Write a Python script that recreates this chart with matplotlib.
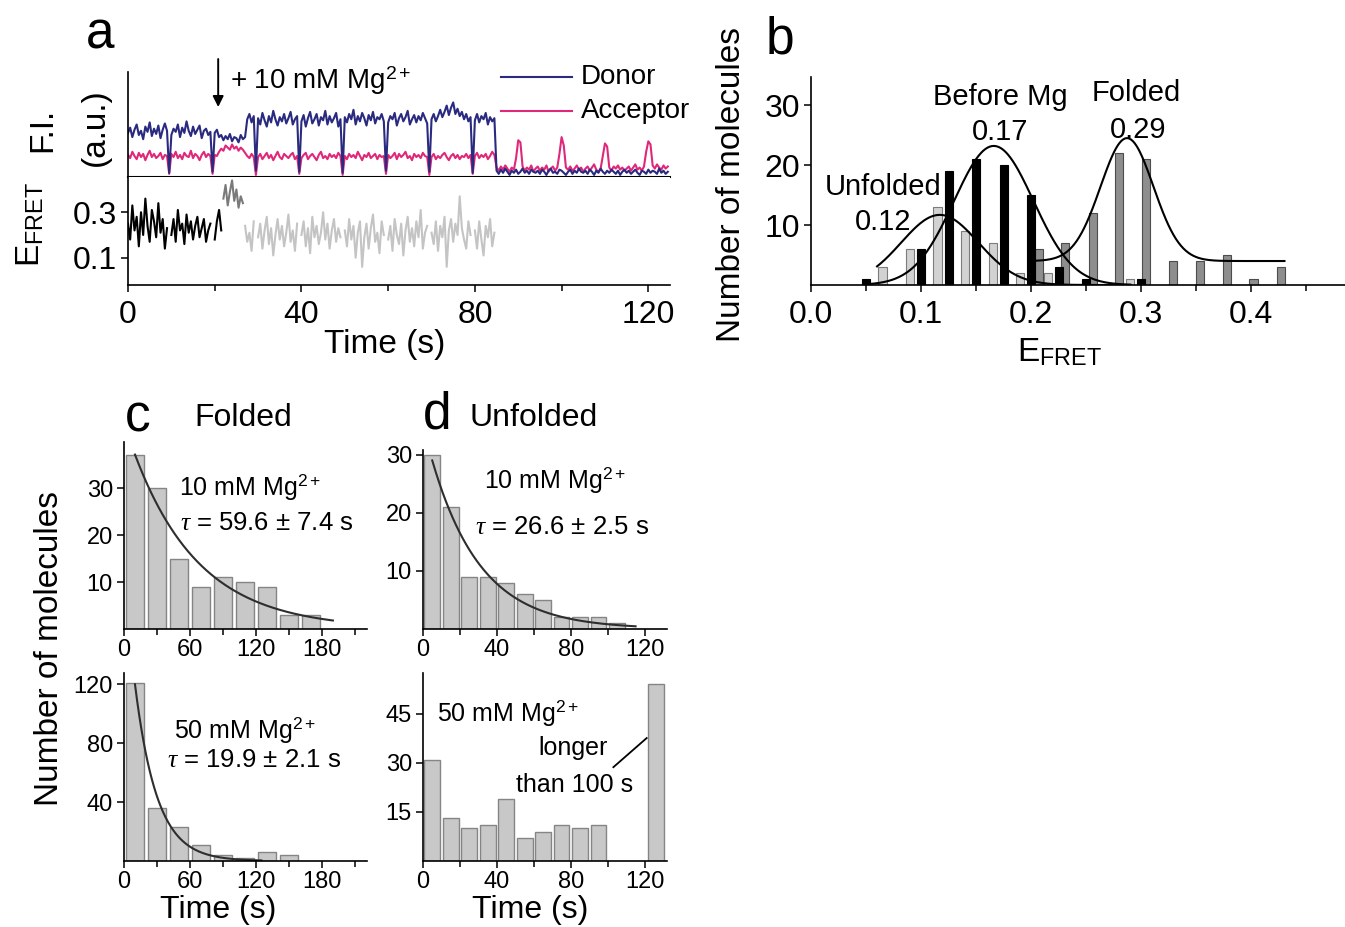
"""
Four-panel smFRET figure: (a) time trace, (b) E_FRET histograms,
(c, d) dwell-time histograms with single-exponential fits.
"""
import numpy as np
import matplotlib
matplotlib.use('Agg')
import matplotlib.pyplot as plt
from matplotlib.ticker import FormatStrFormatter, MultipleLocator

plt.rcParams.update({
    'font.family':      ['Liberation Sans', 'DejaVu Sans'],
    'mathtext.fontset': 'custom',
    'mathtext.rm':      'Liberation Sans',
    'mathtext.it':      'Liberation Serif:italic',
    'mathtext.bf':      'Liberation Sans:bold',
    'axes.linewidth':   1.2,
})

FW, FH = 1345, 927

# ---------------------------------------------------------------- panel a
DT = 0.5           # s per sample in the traces below (values x100, a.u.)
donor = [
    42, 47, 38, 45, 50, 40, 44, 36, 48, 43, 52, 39, 46, 41, 49, 37, 45, 51, 44,   # 0-9
    4,
    40, 46, 43, 50, 38, 47, 42, 53, 44, 39, 48, 41, 45, 49, 37, 44, 46, 40, 43,   # 10-19
    5,
    42, 45, 38, 40, 35, 39, 36, 41, 34, 38, 37, 33, 40, 36, 38,                   # 20-27
    55, 60, 52, 58,
    6,
    56, 50, 61, 54, 48, 58, 52, 63, 55, 49, 57, 53, 60, 51, 56, 62, 50, 55, 58,   # 30-39
    5,
    53, 59, 48, 56, 62, 51, 55, 60, 49, 57, 54, 63, 50, 58, 52, 56, 61, 48, 55,   # 40-49
    4,
    57, 52, 60, 55, 64, 50, 58, 53, 61, 56, 49, 59, 54, 62, 51, 57, 55, 60, 53,   # 50-59
    6,
    52, 58, 55, 61, 49, 56, 60, 53, 57, 63, 50, 55, 59, 52, 58, 54, 61, 56, 51,   # 60-69
    5,
    55, 60, 53, 58, 64, 57, 62, 68, 59, 66, 71, 60, 65, 58, 62, 55, 60, 53, 57,   # 70-79
    4,
    54, 60, 52, 58, 55, 61, 50, 57, 53, 56,                                       # 80-84.5
    6, 3, 7, 4, 8, 5, 2, 6, 4, 7, 3, 5, 8, 4, 6, 3, 7, 5, 4, 6,                   # 85-94.5
    3, 7, 5, 2, 6, 8, 4, 5, 3, 7, 6, 4, 2, 5, 7, 3, 6, 4, 8, 5,
    4, 6, 3, 7, 5, 2, 6, 4, 8, 5, 3, 6, 4, 7, 5, 3, 6, 2, 5, 7,
    4, 6, 3, 5, 7, 4, 2, 6, 5, 3, 7, 4, 6, 5, 3, 8, 4, 6, 3, 5,
]
acceptor = [
    21, 18, 24, 20, 17, 23, 19, 22, 16, 21, 25, 19, 22, 18, 20, 23, 17, 21, 20,
    3,
    22, 19, 24, 18, 21, 17, 23, 20, 19, 25, 18, 22, 20, 16, 21, 24, 19, 22, 20,
    3,
    21, 20, 24, 27, 25, 30, 28, 26, 31, 27, 29, 25, 28, 26, 23,
    20, 18, 22, 19,
    2,
    19, 22, 17, 20, 23, 18, 21, 16, 20, 24, 19, 17, 22, 20, 18, 21, 23, 17, 20,
    3,
    18, 21, 23, 17, 20, 22, 19, 16, 21, 24, 18, 20, 17, 22, 19, 21, 18, 23, 20,
    2,
    20, 17, 22, 19, 21, 18, 24, 20, 16, 21, 19, 23, 18, 20, 22, 17, 21, 19, 20,
    3,
    21, 18, 20, 23, 17, 22, 19, 21, 24, 18, 20, 16, 22, 19, 21, 18, 23, 20, 19,
    2,
    19, 22, 17, 20, 18, 21, 23, 19, 16, 20, 22, 18, 21, 17, 20, 19, 22, 18, 21,
    3,
    20, 23, 18, 21, 19, 22, 17, 20, 24, 21,
    9, 6, 10, 7, 11, 8, 5, 9, 7, 18, 35, 33, 10, 6, 9, 7, 11, 5, 8, 10,          # 85-94.5
    6, 9, 7, 11, 5, 8, 10, 6, 9, 22, 38, 30, 9, 7, 10, 6, 8, 11, 7, 9,
    5, 8, 10, 6, 9, 12, 7, 5, 8, 20, 32, 29, 9, 6, 10, 8, 11, 7, 9, 6,
    8, 10, 6, 9, 12, 7, 9, 6, 10, 24, 34, 31, 11, 8, 12, 9, 7, 11, 8, 10,
]
nan = float('nan')
EF_BEFORE_T0 = 0.0
efret_before = [
    25, 18, 33, 22, 28, 15, 30, 20, 36, 24, 17, 31, 26, 19, 34, 21, 27, 14, 23,
    nan,
    20, 27, 17, 31, 22, 25, 16, 29, 21, 26, 18, 24, 28, 19, 23, 27, 17, 22, 25,
    nan,
    18, 26, 31, 22,
]
EF_MIX_T0 = 22.0
efret_mix = [36, 42, 33, 39, 44, 35, 40, 32, 37, 34]
EF_AFTER_T0 = 27.0
efret_after = [
    24, 17, 21, 13, 26,
    nan,
    19, 25, 14, 22, 28, 16, 23, 11, 20, 27, 18, 24, 15, 21, 29, 17, 22, 13, 25,
    nan,
    20, 26, 15, 23, 12, 28, 19, 24, 16, 21, 30, 18, 25, 14, 22, 27, 17, 23, 19,
    nan,
    22, 15, 27, 18, 24, 10, 21, 26, 6, 19, 25, 14, 23, 29, 17, 21, 12, 26, 20,
    nan,
    18, 24, 13, 27, 20, 16, 25, 11, 22, 28, 17, 23, 15, 26, 19, 31, 14, 21, 24,
    nan,
    21, 16, 26, 13, 24, 19, 28, 6, 22, 27, 17, 25, 20, 37, 23, 18, 14, 26, 20,
    nan,
    22, 14, 26, 18, 11, 24, 19, 27, 15, 21,
]
MG_ADD_T = 20.8

# ---------------------------------------------------------------- panel b
unf_x  = [0.065, 0.090, 0.115, 0.140, 0.165, 0.190, 0.215, 0.290]
unf_n  = [3, 6, 13, 9, 7, 2, 2, 1]
bef_x  = [0.050, 0.100, 0.125, 0.150, 0.175, 0.200, 0.225, 0.250, 0.300]
bef_n  = [1, 6, 19, 21, 20, 15, 3, 1, 1]
fold_x = [0.207, 0.231, 0.256, 0.280, 0.304, 0.329, 0.353, 0.378, 0.402, 0.427]
fold_n = [6, 7, 12, 22, 21, 4, 4, 5, 1, 3]
# gaussian fits: (offset, amplitude, centre, sigma, x from, x to)
fit_unf  = (0.0, 11.7, 0.117, 0.035, 0.060, 0.290)
fit_bef  = (0.0, 23.2, 0.166, 0.036, 0.052, 0.290)
fit_fold = (4.0, 20.5, 0.287, 0.024, 0.205, 0.430)

# ---------------------------------------------------------------- panels c, d
c10_t = [10, 30, 50, 70, 90, 110, 130, 150, 170]
c10_n = [37, 30, 15, 9, 11, 10, 9, 3, 3]
c50_t = [10, 30, 50, 70, 90, 110, 130, 150]
c50_n = [121, 36, 23, 11, 4, 2, 6, 4]
d10_t = [5, 15, 25, 35, 45, 55, 65, 75, 85, 95, 105]
d10_n = [30, 21, 9, 9, 8, 6, 5, 2, 2, 2, 1]
d50_t = [5, 15, 25, 35, 45, 55, 65, 75, 85, 95, 126]
d50_n = [31, 13, 10, 11, 19, 7, 9, 11, 10, 11, 54]
# exponential fits: (amplitude, tau, t from, t to)
fit_c10 = (43.9, 59.6, 10, 190)
fit_c50 = (198.0, 19.9, 10, 125)
fit_d10 = (35.0, 26.6, 5, 115)

DONOR_C = '#2a2a80'
ACC_C   = '#e0287a'
BAR_FC  = '#c8c8c8'
BAR_EC  = '#858585'


def px_axes(fig, l, t, r, b):
    return fig.add_axes([l / FW, 1 - b / FH, (r - l) / FW, (b - t) / FH])


def ftext(fig, x, y, s, **kw):
    kw.setdefault('ha', 'center')
    kw.setdefault('va', 'center')
    fig.text(x / FW, 1 - y / FH, s, **kw)


def style(ax, size):
    for s in ('top', 'right'):
        ax.spines[s].set_visible(False)
    ax.tick_params(which='both', direction='out', width=1.1, labelsize=size)
    ax.tick_params(which='major', length=5, pad=3)
    ax.tick_params(which='minor', length=4)


def gauss(p):
    y0, a, mu, s, x0, x1 = p
    x = np.linspace(x0, x1, 300)
    return x, y0 + a * np.exp(-(x - mu) ** 2 / (2 * s * s))


def expo(p):
    a, tau, t0, t1 = p
    t = np.linspace(t0, t1, 300)
    return t, a * np.exp(-t / tau)


fig = plt.figure(figsize=(FW / 100, FH / 100), dpi=100)

# ---- a
ax_fi = px_axes(fig, 128, 72, 670, 177)
ax_ef = px_axes(fig, 128, 177, 670, 285)
t_fi = np.arange(len(donor)) * DT
ax_fi.plot(t_fi, np.array(acceptor) / 100, color=ACC_C, lw=1.5)
ax_fi.plot(t_fi, np.array(donor) / 100, color=DONOR_C, lw=1.5)
ax_fi.set_xlim(0, 125)
ax_fi.set_ylim(0, 1)
for s in ('top', 'right'):
    ax_fi.spines[s].set_visible(False)
ax_fi.spines['bottom'].set_linewidth(1.5)
ax_fi.set_xticks([])
ax_fi.set_yticks([])
ax_fi.annotate('', xy=(MG_ADD_T, 0.64), xytext=(MG_ADD_T, 1.15),
               arrowprops=dict(arrowstyle='-|>', color='k', lw=1.4,
                               mutation_scale=16),
               annotation_clip=False)
ax_fi.text(23.6, 0.92, '+ 10 mM Mg$^{2+}$', fontsize=20, ha='left',
           va='center', clip_on=False)
ax_fi.plot([86, 102.5], [0.95, 0.95], color=DONOR_C, lw=1.5, clip_on=False)
ax_fi.plot([86, 102.5], [0.63, 0.63], color=ACC_C, lw=1.5, clip_on=False)
ax_fi.text(104.4, 0.95, 'Donor', fontsize=20, va='center', clip_on=False)
ax_fi.text(104.4, 0.63, 'Acceptor', fontsize=20, va='center', clip_on=False)

for vals, t0, col in ((efret_before, EF_BEFORE_T0, 'black'),
                      (efret_mix, EF_MIX_T0, '#7a7a7a'),
                      (efret_after, EF_AFTER_T0, '#c4c4c4')):
    tt = t0 + np.arange(len(vals)) * DT
    ax_ef.plot(tt, np.array(vals) / 100, color=col, lw=1.5)
ax_ef.set_xlim(0, 125)
ax_ef.set_ylim(-0.02, 0.455)
style(ax_ef, 23)
ax_ef.set_yticks([0.1, 0.3])
ax_ef.set_xticks([0, 40, 80, 120])
ax_ef.xaxis.set_minor_locator(MultipleLocator(20))
ax_ef.tick_params(axis='x', pad=6)

ftext(fig, 100, 35, 'a', fontsize=37)
ftext(fig, 43, 130, 'F.I.', fontsize=24, rotation=90)
ftext(fig, 95, 127, '(a.u.)', fontsize=24, rotation=90)
ftext(fig, 30, 224, r'E$_{\mathrm{FRET}}$', fontsize=24, rotation=90)
ftext(fig, 385, 345, 'Time (s)', fontsize=24)

# ---- b
ax_b = px_axes(fig, 811, 77, 1345, 285)
bw = 0.0075
ax_b.bar(unf_x, unf_n, width=bw, color='#d2d2d2', edgecolor='#7c7c7c', lw=0.8)
ax_b.bar(fold_x, fold_n, width=bw, color='#8e8e8e', edgecolor='#4c4c4c', lw=0.8)
ax_b.bar(bef_x, bef_n, width=bw, color='black', edgecolor='black', lw=0.8)
for p in (fit_unf, fit_bef, fit_fold):
    x, y = gauss(p)
    ax_b.plot(x, y, color='black', lw=1.5)
ax_b.set_xlim(0, 0.485)
ax_b.set_ylim(0, 34.7)
style(ax_b, 23)
ax_b.set_xticks([0, 0.1, 0.2, 0.3, 0.4])
ax_b.xaxis.set_minor_locator(MultipleLocator(0.05))
ax_b.xaxis.set_major_formatter(FormatStrFormatter('%.1f'))
ax_b.set_yticks([10, 20, 30])
ax_b.tick_params(axis='x', pad=6)

ftext(fig, 780, 40, 'b', fontsize=37)
ftext(fig, 731, 185, 'Number of molecules', fontsize=24, rotation=90)
ftext(fig, 1060, 352, r'E$_{\mathrm{FRET}}$', fontsize=24)
ftext(fig, 1000, 97, 'Before Mg', fontsize=21)
ftext(fig, 1000, 132, '0.17', fontsize=21)
ftext(fig, 1136, 93, 'Folded', fontsize=21)
ftext(fig, 1138, 130, '0.29', fontsize=21)
ftext(fig, 883, 187, 'Unfolded', fontsize=21)
ftext(fig, 883, 222, '0.12', fontsize=21)

# ---- c, d
ax_c1 = px_axes(fig, 124, 442, 367, 629)
ax_c2 = px_axes(fig, 124, 673, 367, 861)
ax_d1 = px_axes(fig, 423, 450, 667, 629)
ax_d2 = px_axes(fig, 423, 673, 667, 861)

for ax, tt, nn, w in ((ax_c1, c10_t, c10_n, 17.0), (ax_c2, c50_t, c50_n, 17.0),
                      (ax_d1, d10_t, d10_n, 8.5), (ax_d2, d50_t, d50_n, 8.5)):
    ax.bar(tt, nn, width=w, color=BAR_FC, edgecolor=BAR_EC, lw=1.0)
    style(ax, 17)
    ax.tick_params(axis='x', pad=2)

for ax, p in ((ax_c1, fit_c10), (ax_c2, fit_c50), (ax_d1, fit_d10)):
    t, y = expo(p)
    ax.plot(t, y, color='#2e2e2e', lw=1.5)

for ax in (ax_c1, ax_c2):
    ax.set_xlim(0, 221)
    ax.set_xticks([0, 60, 120, 180])
    ax.xaxis.set_minor_locator(MultipleLocator(30))
for ax in (ax_d1, ax_d2):
    ax.set_xlim(0, 132)
    ax.set_xticks([0, 40, 80, 120])
    ax.xaxis.set_minor_locator(MultipleLocator(20))

ax_c1.set_ylim(0, 39.8)
ax_c1.set_yticks([10, 20, 30])
ax_c2.set_ylim(0, 127.5)
ax_c2.set_yticks([40, 80, 120])
ax_d1.set_ylim(0, 30.8)
ax_d1.set_yticks([10, 20, 30])
ax_d2.set_ylim(0, 57.5)
ax_d2.set_yticks([15, 30, 45])

ax_c1.text(115, 30.2, '10 mM Mg$^{2+}$', fontsize=18, ha='center', va='center')
ax_c1.text(130, 22.5, r'$\tau$ = 59.6 ± 7.4 s', fontsize=18.5, ha='center', va='center')
ax_c2.text(110, 88.8, '50 mM Mg$^{2+}$', fontsize=18, ha='center', va='center')
ax_c2.text(118, 68.5, r'$\tau$ = 19.9 ± 2.1 s', fontsize=18.5, ha='center', va='center')
ax_d1.text(71.4, 25.7, '10 mM Mg$^{2+}$', fontsize=18, ha='center', va='center')
ax_d1.text(75, 17.6, r'$\tau$ = 26.6 ± 2.5 s', fontsize=18.5, ha='center', va='center')
ax_d2.text(46, 45.3, '50 mM Mg$^{2+}$', fontsize=18, ha='center', va='center')
ax_d2.text(81, 34.6, 'longer', fontsize=18, ha='center', va='center')
ax_d2.text(82, 23.2, 'than 100 s', fontsize=18, ha='center', va='center')
ax_d2.plot([103, 121], [28.7, 37.6], color='black', lw=1.3)

ftext(fig, 138, 418, 'c', fontsize=37)
ftext(fig, 243, 418, 'Folded', fontsize=23)
ftext(fig, 437, 415, 'd', fontsize=37)
ftext(fig, 534, 418, 'Unfolded', fontsize=23)
ftext(fig, 50, 648, 'Number of molecules', fontsize=24, rotation=90)
ftext(fig, 218, 910, 'Time (s)', fontsize=23)
ftext(fig, 530, 910, 'Time (s)', fontsize=23)

fig.savefig('out.png', dpi=100)
plt.close(fig)
